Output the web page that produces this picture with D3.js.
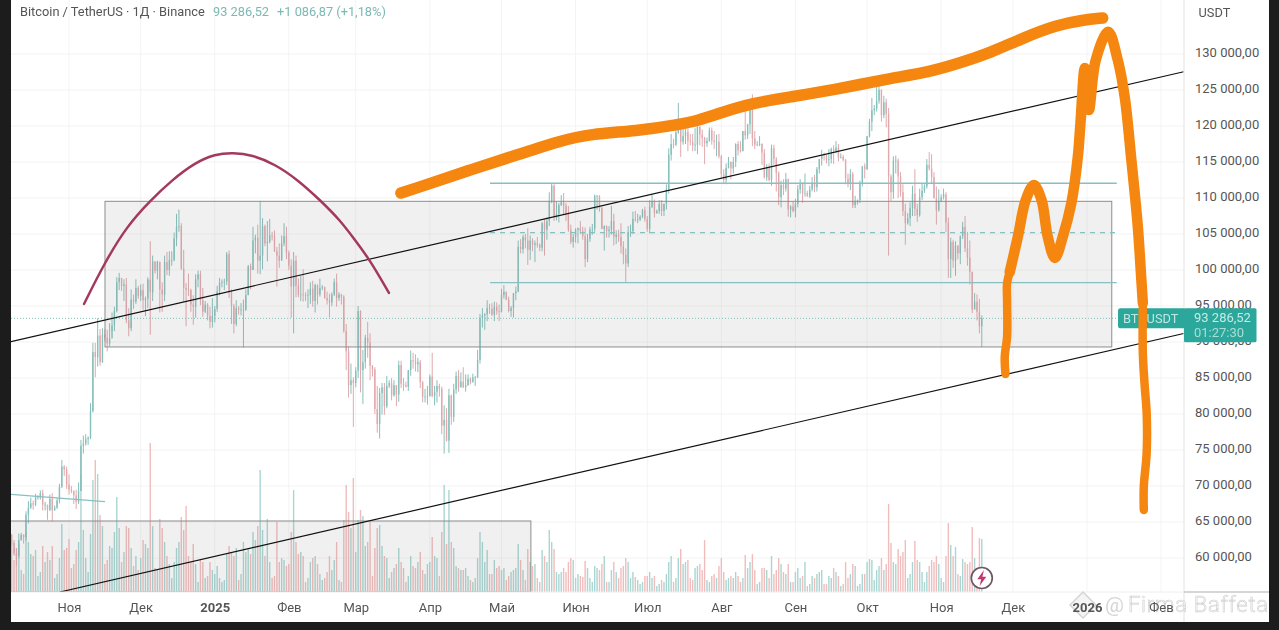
<!DOCTYPE html>
<html>
<head>
<meta charset="utf-8">
<title>BTCUSDT</title>
<script src="https://cdn.jsdelivr.net/npm/d3@7"></script>
<style>
  html, body { margin: 0; padding: 0; background: #fff; overflow: hidden; }
  svg { display: block; font-family: Roboto, sans-serif; filter: blur(0.35px); }
  .axis path, .axis line { display: none; }
  .axis text { fill: #555; font-size: 13px; font-family: Roboto, sans-serif; }
</style>
</head>
<body>
<div id="chart"></div>
<script>
// Daily candles, thousands of USDT, first candle is 8 Oct 2024 (one row per month)
var firstCandle = "2024-10-08";
var firstOpen = 62.2;

var highs = [
  63.2,62.5,61.3,63.4,63.5,63.3,66.5,67.9,68.4,68.0,68.9,68.7,69.4,69.5,67.8,67.4,68.8,69.0,67.3,68.3,70.3,73.6,72.9,72.7,
  71.6,70.0,69.4,69.5,70.5,76.4,77.0,77.2,76.9,81.5,89.9,89.9,93.3,91.8,91.9,91.8,91.7,92.6,94.1,94.9,99.0,99.6,98.9,98.7,98.9,94.7,97.3,96.6,98.7,97.8,
  98.0,98.1,96.3,99.0,104.0,102.0,101.2,101.3,101.2,98.3,102.0,102.5,102.6,102.6,105.2,107.8,108.4,106.5,102.8,98.2,99.5,97.4,96.5,99.4,99.9,99.9,97.5,95.7,95.4,94.9,96.1,
  95.0,97.8,98.9,98.7,98.8,102.5,102.7,97.3,95.3,95.8,95.0,95.4,95.9,97.3,100.7,100.9,106.0,104.9,106.3,109.6,107.2,106.3,106.8,107.1,105.3,105.5,103.2,103.7,104.8,106.5,106.0,
  102.7,101.5,102.5,102.0,98.8,99.2,100.1,96.9,97.3,98.3,98.5,98.1,98.0,98.8,97.9,97.7,97.0,96.7,96.9,98.8,99.5,96.9,96.7,96.5,92.5,89.4,87.0,85.1,
  86.5,95.0,94.4,88.9,91.0,92.8,91.2,86.8,86.5,83.9,83.6,84.3,84.3,85.3,84.7,85.0,84.7,84.0,87.4,87.4,85.0,84.5,86.0,88.8,88.5,88.3,87.8,87.5,84.6,83.5,83.9,
  85.5,88.5,83.9,84.7,84.2,83.8,81.2,80.8,83.5,82.7,84.2,85.9,86.1,85.8,86.5,85.5,85.5,85.1,85.6,85.3,88.9,93.9,94.7,94.0,95.8,95.3,95.4,95.6,95.5,95.2,
  97.4,97.9,96.9,96.3,95.0,96.8,97.7,104.1,104.3,104.9,105.0,105.8,104.8,104.4,104.1,104.6,103.7,106.7,107.1,107.3,110.8,112.0,111.9,109.5,109.3,110.4,110.7,109.3,108.9,106.3,105.0,
  105.8,105.9,106.8,106.0,105.9,105.0,106.0,106.4,110.5,110.4,110.4,108.8,106.2,106.2,106.1,108.9,107.8,105.5,105.6,106.5,104.0,103.0,106.1,106.3,108.1,108.2,107.8,107.6,108.5,108.8,
  107.5,109.7,110.5,109.8,108.4,109.7,109.7,109.2,111.9,116.9,118.9,118.2,119.5,123.2,120.0,120.4,120.9,120.9,118.9,118.9,119.7,120.2,120.0,119.5,118.5,118.4,119.8,119.8,119.3,118.8,118.9,
  116.0,114.0,114.8,115.7,115.1,115.7,117.6,117.9,117.9,119.3,122.3,120.3,123.7,124.4,119.3,117.9,118.6,117.6,116.8,114.7,114.8,117.4,117.4,115.7,113.7,112.4,112.6,113.5,112.7,109.0,109.5,
  109.9,111.8,112.6,112.2,113.4,111.0,111.7,112.9,113.2,114.3,115.4,116.7,116.3,116.0,116.8,117.0,117.3,117.9,117.5,116.2,116.0,115.4,113.4,114.0,113.6,110.3,109.8,112.4,114.4,114.8,
  118.6,121.0,123.9,122.9,125.5,126.2,125.1,124.2,123.8,122.5,113.3,115.8,115.9,115.5,113.6,111.9,109.2,107.9,109.4,111.7,114.0,109.2,111.3,112.0,111.9,115.4,116.4,116.1,113.6,111.6,111.2,
  110.5,111.3,110.8,107.3,104.5,104.2,104.0,103.4,104.8,106.7,107.5,105.3,104.1,99.8,96.8,96.6,96.0,93.7
];

var lows = [
  61.8,60.3,58.9,60.0,62.4,62.0,62.4,64.8,66.8,66.7,67.2,68.1,68.1,66.6,66.6,65.3,66.5,65.1,66.6,66.8,67.6,69.7,71.4,69.6,
  68.8,69.0,67.5,66.8,67.5,69.3,74.5,75.6,75.7,76.5,80.2,85.1,86.6,86.7,87.1,90.1,88.7,89.4,91.5,91.5,94.1,97.2,97.1,95.7,92.6,90.8,91.5,94.6,95.3,96.0,
  95.7,94.5,93.6,94.7,91.0,95.7,99.5,98.7,94.1,94.2,95.7,99.3,99.2,100.6,101.2,103.3,105.3,100.0,95.6,92.2,96.4,94.2,92.4,93.4,97.6,95.1,93.5,94.0,93.0,91.9,92.0,
  92.7,94.2,96.5,97.6,97.2,97.9,96.1,92.5,91.2,92.2,93.8,93.7,89.2,94.3,96.5,97.3,100.0,102.3,99.5,99.4,100.1,103.3,101.2,103.7,104.1,102.5,97.7,100.3,101.3,103.3,101.5,
  100.0,93.4,91.2,96.2,96.2,95.7,95.6,95.7,94.7,95.3,94.9,94.1,95.2,96.3,97.2,96.0,95.2,93.4,95.0,96.4,94.9,95.7,95.2,91.3,86.1,82.3,82.8,78.2,
  83.7,85.0,83.0,81.4,86.3,87.8,84.7,85.2,80.0,77.4,76.6,79.9,79.9,80.8,83.6,81.9,82.4,81.1,81.7,83.6,83.2,83.7,83.2,85.3,86.3,85.9,85.8,83.6,81.6,81.6,81.3,
  82.4,82.3,81.2,81.6,82.4,77.2,74.5,76.2,74.6,78.5,78.9,82.8,83.1,83.7,83.6,83.1,83.9,84.1,84.4,83.9,85.0,87.0,92.0,91.7,92.9,93.9,93.6,92.9,93.8,92.9,
  94.1,96.0,95.8,94.1,93.5,93.4,95.8,96.9,102.3,102.3,103.0,100.7,101.4,102.6,101.1,103.1,102.6,102.6,102.0,104.2,106.1,109.3,106.8,106.9,106.6,108.9,107.6,106.8,105.3,103.6,103.1,
  103.8,103.7,105.0,104.2,100.4,101.1,103.9,104.9,105.3,108.4,108.1,105.7,102.7,104.5,104.5,104.9,103.4,103.6,103.9,102.3,100.8,98.2,100.4,104.6,105.0,106.7,106.5,106.8,107.2,106.7,
  105.3,105.1,108.6,107.3,107.8,107.8,107.5,107.5,108.4,110.6,115.2,116.9,117.2,118.9,115.7,117.4,117.5,116.5,117.3,116.5,116.5,116.1,117.3,117.1,114.7,117.1,117.8,117.4,116.8,115.8,115.5,
  112.7,112.0,111.9,114.1,112.6,113.4,114.3,115.9,116.3,116.5,118.1,118.2,118.9,117.2,116.8,117.2,117.2,114.6,112.7,112.4,112.3,111.7,114.6,110.9,109.0,108.7,110.4,110.9,107.4,107.3,108.0,
  107.3,108.7,110.6,109.3,110.2,110.2,110.0,110.9,110.8,110.9,113.4,114.5,115.2,114.8,114.4,114.8,114.7,116.2,115.1,115.5,115.1,111.9,111.5,111.1,108.6,108.6,109.1,109.3,111.6,112.7,
  113.9,118.4,119.3,121.5,122.0,123.1,120.6,121.1,119.8,102.0,109.6,109.9,113.4,110.0,110.2,107.5,103.5,106.3,106.1,107.5,107.5,106.7,107.4,109.7,110.7,111.3,113.8,112.0,109.9,106.3,108.1,
  109.5,109.8,105.3,98.9,98.9,100.3,99.2,101.5,100.8,104.3,102.5,100.6,98.0,94.0,94.6,93.0,91.2,89.3
];

var closes = [
  62.1,60.6,60.3,62.5,63.2,62.9,66.0,67.0,67.6,67.4,68.4,68.4,69.0,67.4,67.4,66.7,68.2,66.6,67.0,68.0,69.9,72.7,72.3,70.2,
  69.5,69.3,68.7,67.8,69.3,75.6,75.9,76.5,76.7,80.4,88.6,87.9,90.9,87.2,91.0,90.6,89.8,90.5,92.3,94.3,98.3,98.9,97.8,98.0,93.0,91.9,95.9,95.6,97.5,96.4,
  97.2,95.8,96.0,98.7,96.9,101.2,99.9,101.1,97.3,96.6,101.1,100.0,101.4,101.4,104.4,106.0,106.1,100.2,97.5,97.3,97.2,95.2,94.9,98.7,99.4,95.8,94.2,95.2,93.6,92.8,93.6,
  94.6,97.0,98.2,98.3,98.4,102.2,96.9,95.0,92.5,94.7,94.5,94.5,94.5,96.5,100.5,100.0,104.1,104.5,101.3,102.0,106.1,103.7,103.9,104.8,104.7,102.6,102.0,101.3,103.7,104.7,102.4,
  100.6,97.7,101.3,97.8,96.6,96.6,96.5,96.4,96.5,97.4,95.7,97.9,96.6,97.5,97.6,96.1,95.8,95.5,96.6,98.3,96.1,96.6,96.3,91.5,88.7,84.0,84.7,84.3,
  86.0,94.3,86.1,87.2,90.6,89.9,86.7,86.2,80.7,78.6,82.9,83.7,81.1,83.9,84.3,82.6,84.0,82.7,86.8,84.2,84.0,83.8,86.1,87.5,87.4,86.9,87.2,84.4,82.4,82.4,82.5,
  85.2,82.5,83.1,83.9,83.5,78.4,79.2,76.3,82.6,79.6,83.4,85.3,83.7,84.5,83.7,84.0,84.9,84.4,85.1,85.1,87.5,93.4,93.7,93.9,94.7,94.6,93.8,94.9,94.3,94.2,
  96.5,97.0,95.9,94.3,94.7,96.8,97.0,103.2,102.9,104.6,104.1,102.8,104.1,103.5,103.7,103.5,103.1,106.5,105.6,106.8,109.6,111.7,107.3,107.8,109.0,109.4,108.9,107.8,105.6,103.9,104.6,
  105.6,105.8,105.4,104.7,101.5,104.3,105.6,105.7,110.3,110.3,108.6,105.7,106.1,105.4,105.6,106.8,104.6,104.9,104.6,103.3,102.1,100.9,105.3,105.4,107.1,107.0,107.0,107.4,108.3,107.1,
  105.7,108.8,109.6,107.9,108.2,109.2,108.2,109.2,111.2,116.0,117.5,117.4,119.1,120.0,117.8,118.6,119.2,117.9,117.8,117.3,117.4,119.9,118.8,118.3,117.6,117.9,119.4,118.0,117.8,117.8,115.8,
  113.3,112.5,114.2,115.0,114.1,115.0,117.5,116.6,116.5,119.3,118.7,120.2,123.3,118.3,117.4,117.4,117.5,116.3,112.9,114.3,112.5,116.9,115.4,113.5,110.1,111.8,111.3,112.6,108.4,108.8,108.2,
  109.2,111.2,112.0,110.7,110.7,110.2,111.2,112.1,111.5,114.0,115.4,116.0,115.9,115.3,115.4,116.8,116.5,117.0,115.6,115.7,115.3,112.7,112.0,113.3,109.0,109.6,109.7,112.1,114.4,114.0,
  118.6,120.6,122.2,122.4,123.5,125.0,121.5,123.3,121.7,113.0,110.8,115.2,115.2,113.0,110.8,108.2,106.5,107.2,108.6,110.6,108.5,107.6,110.1,111.0,111.6,114.6,114.1,112.9,110.0,108.3,109.6,
  110.1,110.5,106.6,101.5,103.9,101.3,103.4,102.3,104.7,106.0,103.0,101.7,99.7,94.5,95.6,94.2,92.2,93.3
];

// Volume has no axis of its own in the screenshot, so these are bar heights in chart units
var volumes = [
  58,32,44,48,22,18,60,50,38,36,42,16,20,46,30,40,32,46,14,18,34,68,42,44,
  53,24,28,42,50,118,62,34,20,58,112,132,118,77,66,28,32,46,44,60,95,64,30,40,66,64,44,26,36,22,
  34,52,48,44,149,66,24,22,73,64,50,36,28,14,30,44,50,75,62,86,36,30,48,28,10,32,30,14,16,30,22,
  18,26,14,10,12,38,46,40,36,44,12,18,50,40,44,38,60,52,66,122,62,36,73,30,14,16,70,30,34,32,26,
  28,60,102,50,38,40,36,10,14,30,34,36,28,18,12,14,20,36,22,32,50,12,10,72,107,80,64,114,
  40,72,82,76,46,50,70,16,44,64,67,46,36,34,14,20,24,28,44,30,24,10,16,36,26,24,30,40,22,18,28,
  30,55,36,34,16,60,107,48,102,50,44,26,24,22,22,24,16,12,10,14,34,60,50,30,42,18,18,32,24,26,
  22,24,12,16,20,22,24,48,32,22,12,43,30,26,28,14,10,42,36,30,62,50,43,20,18,20,24,20,30,34,32,
  14,18,16,15,31,24,14,10,26,24,22,28,36,10,10,22,30,20,14,24,26,34,30,14,20,15,12,8,10,16,
  16,20,14,16,6,8,12,10,18,30,36,10,14,34,43,28,30,32,14,12,24,26,28,22,52,12,10,16,18,14,26,
  34,20,12,14,16,14,20,16,10,14,37,24,30,38,22,8,10,24,24,22,14,36,18,22,34,28,20,18,28,10,10,
  20,24,14,16,30,6,8,16,14,18,20,22,8,8,16,14,24,20,16,6,8,30,14,18,28,26,6,8,18,18,
  30,33,32,12,22,26,34,22,28,88,49,30,28,43,36,40,52,14,18,30,51,32,30,20,10,20,26,32,30,36,28,
  14,10,36,69,47,36,45,18,16,33,30,28,30,65,34,24,54,53
];

// Axis labels
var monthTicks = ["2024-11-01","2024-12-01","2025-01-01","2025-02-01","2025-03-01","2025-04-01","2025-05-01","2025-06-01","2025-07-01","2025-08-01","2025-09-01","2025-10-01","2025-11-01","2025-12-01","2026-01-01","2026-02-01"];
var monthLabels = ["Ноя","Дек","2025","Фев","Мар","Апр","Май","Июн","Июл","Авг","Сен","Окт","Ноя","Дек","2026","Фев"];
var priceTicks = [130,125,120,115,110,105,100,95,90,85,80,75,70,65,60];

// Drawings on the chart: [days after 1 Nov 2024, price in thousands]
var upperTrend = [[-24.3,90.04],[466.5,127.54]];
var lowerTrend = [[-3.8,55.28],[466.5,91.18]];
var oldLevel = [[-24.3,68.85],[15.06,67.82]];
var mainBox = [[15.06,109.54],[436.4,89.31]];
var volumeBox = [[-26,65.14],[193.3,55.28]];
var levelStart = 176.2, levelEnd = 438.5;
var levels = [112.04,105.18,98.24];
var lastPrice = 93.28652;

var domeCurve = [[6.28,95.28],[6.28,95.28],[15.06,101.11],[24.27,106.1],[33.89,109.6],[43.1,112.5],[52.72,114.9],[61.09,116.1],[68.62,116.3],[76.57,116.0],[86.19,114.7],[95.82,112.5],[105.02,109.72],[113.39,106.94],[119.67,104.17],[125.94,101.39],[133.89,96.81],[133.89,96.81]];
var topStroke = [[138.9,110.69],[146.9,111.53],[167.8,113.89],[188.7,116.11],[205.4,117.92],[218,118.89],[237.7,119.31],[254.4,120.14],[264,120.83],[272.4,121.81],[286.2,123.19],[301.7,124.03],[319.7,125],[342.3,126.53],[360.3,127.5],[372.8,128.75],[385.4,130.14],[399.2,132.22],[413.4,134.03],[424.3,134.72],[432.6,135]];
var forecastStart = [[391.9,85.56],[391.6,87.96],[392.6,90.74],[392.6,95.42],[392.6,98.19],[393.7,99.72]];
var forecastMiddle = [[393.7,99.72],[397.1,104.63],[400.4,109.72],[403.8,111.81],[407,109.72],[409.6,104.63],[412.6,101.67],[415.9,104.63],[419.5,109.31],[422.2,115.74],[423.3,120.42],[425.1,128.06],[426.8,122.22],[429.7,129.17],[434.9,133.1],[438.9,129.17],[441.8,124.07],[444.6,115.28],[447.3,106.01],[448.6,99.58],[449.4,95.42]];
var forecastEnd = [[449.4,95.42],[449.4,88.47],[450.2,83.79],[451,80.14],[451,74.58],[449.8,69.9],[449.8,66.67]];

var svgWidth = 1279;
var svgHeight = 630;
var plotLeft = 11, plotRight = 1184, plotBottom = 592, frameRight = 1269, frameBottom = 622;

var svg = d3.select("#chart").append("svg")
  .attr("width", svgWidth)
  .attr("height", svgHeight);

svg.append("defs").append("clipPath").attr("id", "plot")
  .append("rect").attr("x", plotLeft).attr("y", 0).attr("width", plotRight - plotLeft).attr("height", plotBottom);

var parseDay = d3.utcParse("%Y-%m-%d");
var dayMs = 864e5;
var baseDay = parseDay("2024-11-01");

var xScale = d3.scaleUtc()
  .domain([baseDay, parseDay("2026-02-01")])
  .range([69, 1161]);

var yScale = d3.scaleLinear()
  .domain([130, 60])
  .range([54, 558]);

// Volume bars sit on the chart floor
var volScale = d3.scaleLinear()
  .domain([0, 150])
  .range([plotBottom, plotBottom - 150]);

function dayX(d) { return xScale(new Date(+baseDay + d * dayMs)); }
var drawLine = d3.line().x(d => dayX(d[0])).y(d => yScale(d[1]));

var candles = highs.map(function (h, i) {
  var open = i === 0 ? firstOpen : closes[i - 1];
  return {
    date: d3.utcDay.offset(parseDay(firstCandle), i),
    open: open, high: h, low: lows[i], close: closes[i],
    up: closes[i] >= open, volume: volumes[i]
  };
});

// Grid
var monthDates = monthTicks.map(parseDay);
var grid = svg.append("g");
grid.selectAll(".gy").data(priceTicks).enter().append("line")
  .attr("x1", plotLeft).attr("x2", plotRight)
  .attr("y1", d => yScale(d)).attr("y2", d => yScale(d))
  .attr("stroke", "#f3f3f3");
grid.selectAll(".gx").data(monthDates).enter().append("line")
  .attr("x1", d => xScale(d)).attr("x2", d => xScale(d))
  .attr("y1", 0).attr("y2", plotBottom)
  .attr("stroke", "#f3f4f5");

var plot = svg.append("g").attr("clip-path", "url(#plot)");

// Volume
plot.append("g").selectAll("rect").data(candles).enter().append("rect")
  .attr("x", d => xScale(d.date) - 0.7)
  .attr("width", 1.4)
  .attr("y", d => volScale(d.volume))
  .attr("height", d => plotBottom - volScale(d.volume))
  .attr("fill", d => d.up ? "#a9d6d2" : "#f1bcbc");

// Candles
var candleGroup = plot.append("g");
candleGroup.selectAll("line").data(candles).enter().append("line")
  .attr("x1", d => xScale(d.date)).attr("x2", d => xScale(d.date))
  .attr("y1", d => yScale(d.high)).attr("y2", d => yScale(d.low))
  .attr("stroke", d => d.up ? "#86c0bb" : "#e2a9ad")
  .attr("stroke-width", 1);
candleGroup.selectAll("rect").data(candles).enter().append("rect")
  .attr("x", d => xScale(d.date) - 0.7)
  .attr("width", 1.4)
  .attr("y", d => yScale(Math.max(d.open, d.close)))
  .attr("height", d => Math.max(0.6, Math.abs(yScale(d.open) - yScale(d.close))))
  .attr("fill", d => d.up ? "#86c0bb" : "#e2a9ad");

// Boxes
plot.selectAll(".box").data([mainBox, volumeBox]).enter().append("rect")
  .attr("x", d => dayX(d[0][0]))
  .attr("y", d => yScale(d[0][1]))
  .attr("width", d => dayX(d[1][0]) - dayX(d[0][0]))
  .attr("height", d => yScale(d[1][1]) - yScale(d[0][1]))
  .attr("fill", "#808080")
  .attr("fill-opacity", 0.12)
  .attr("stroke", "#8d8d8d")
  .attr("stroke-width", 1);

// Teal levels
plot.selectAll(".level").data(levels).enter().append("line")
  .attr("x1", dayX(levelStart)).attr("x2", dayX(levelEnd))
  .attr("y1", d => yScale(d)).attr("y2", d => yScale(d))
  .attr("stroke", "#88c0c2")
  .attr("stroke-width", (d, i) => i === 0 ? 1.6 : 1.3)
  .attr("stroke-dasharray", (d, i) => i === 1 ? "5 5" : null);
plot.append("path").attr("d", drawLine(oldLevel))
  .attr("fill", "none").attr("stroke", "#88c0c2").attr("stroke-width", 1.3);

// Last price line
plot.append("line")
  .attr("x1", plotLeft).attr("x2", plotRight)
  .attr("y1", yScale(lastPrice)).attr("y2", yScale(lastPrice))
  .attr("stroke", "#7fbdb7")
  .attr("stroke-dasharray", "1 2");

// Trend lines
plot.selectAll(".trend").data([upperTrend, lowerTrend]).enter().append("path")
  .attr("d", drawLine)
  .attr("fill", "none")
  .attr("stroke", "#111")
  .attr("stroke-width", 1.2);

// Lightning mark after the last candle
var lastX = xScale(candles[candles.length - 1].date);
var bolt = svg.append("g").attr("transform", `translate(${lastX}, 578)`);
bolt.append("circle").attr("r", 10.5).attr("fill", "#fff").attr("stroke", "#6a5a66").attr("stroke-width", 1.7);
bolt.append("path").attr("d", "M2.2,-8 L-4.5,1.2 L-0.6,1.2 L-2.2,8 L4.5,-1.2 L0.6,-1.2 Z").attr("fill", "#c2386b");

// Scale panel
svg.append("rect").attr("x", plotRight).attr("y", 0).attr("width", frameRight - plotRight).attr("height", frameBottom).attr("fill", "#fff");
svg.append("line").attr("x1", plotRight).attr("x2", plotRight).attr("y1", 0).attr("y2", frameBottom).attr("stroke", "#e3e3e3");
svg.append("line").attr("x1", plotLeft).attr("x2", plotRight).attr("y1", plotBottom).attr("y2", plotBottom).attr("stroke", "#eeeeee");
svg.append("line").attr("x1", plotRight).attr("x2", frameRight).attr("y1", plotBottom).attr("y2", plotBottom).attr("stroke", "#c9c9c9").attr("stroke-width", 1.5);

var ruFormat = d3.formatLocale({decimal: ",", thousands: " ", grouping: [3], currency: ["", ""]}).format(",.2f");

var rightAxis = d3.axisRight(yScale)
  .tickValues(priceTicks)
  .tickSize(0)
  .tickPadding(11)
  .tickFormat(d => ruFormat(d * 1000));
svg.append("g").attr("class", "axis")
  .attr("transform", `translate(${plotRight}, -1.5)`)
  .call(rightAxis);

// Watermark sits under the time labels
var mark = svg.append("g");
mark.append("path").attr("d", "M1083,592 L1096,605 L1083,618 L1070,605 Z")
  .attr("fill", "#f4f4f4").attr("stroke", "#d5d5d5").attr("stroke-width", 1.5);
mark.append("text").attr("x", 1105).attr("y", 612).text("@")
  .attr("font-size", 21).attr("fill", "#d6d6d6");
mark.append("text").attr("x", 1128).attr("y", 612).text("Firma Baffeta")
  .attr("font-size", 22).attr("font-weight", 300)
  .attr("textLength", 140).attr("lengthAdjust", "spacing")
  .attr("fill", "#fff").attr("stroke", "#cdcdcd").attr("stroke-width", 0.6);

var bottomAxis = d3.axisBottom(xScale)
  .tickValues(monthDates)
  .tickSize(0)
  .tickPadding(11)
  .tickFormat((d, i) => monthLabels[i]);
var timeAxis = svg.append("g").attr("class", "axis")
  .attr("transform", `translate(0, ${plotBottom})`)
  .call(bottomAxis);
timeAxis.selectAll("text")
  .style("font-weight", (d, i) => monthLabels[i].length === 4 ? 700 : 400);

// Header
var header = svg.append("text").attr("x", 20).attr("y", 16).attr("font-size", 12.8);
header.append("tspan").attr("fill", "#555").text("Bitcoin / TetherUS · 1Д · Binance");
header.append("tspan").attr("x", 213).attr("fill", "#7cb9b3").text("93 286,52");
header.append("tspan").attr("x", 277).attr("fill", "#7cb9b3").text("+1 086,87 (+1,18%)");
svg.append("text").attr("x", 1198.5).attr("y", 17).attr("font-size", 12.8).attr("fill", "#555").text("USDT");

// Price tags
var tagTop = yScale(lastPrice) - 10;
svg.append("rect").attr("x", 1118).attr("y", tagTop).attr("width", 68).attr("height", 20).attr("rx", 2.5).attr("fill", "#2ba79b");
svg.append("text").attr("x", 1123).attr("y", tagTop + 15).attr("font-size", 12.8).attr("fill", "#bfe8e2").text("BTCUSDT");
svg.append("rect").attr("x", plotRight).attr("y", tagTop).attr("width", 72.5).attr("height", 34).attr("rx", 1.5).attr("fill", "#2ba79b");
svg.append("text").attr("x", 1194).attr("y", tagTop + 14).attr("font-size", 13).attr("fill", "#c6ebe6").text("93 286,52");
svg.append("text").attr("x", 1194).attr("y", tagTop + 29).attr("font-size", 13).attr("fill", "#a9dfd8").text("01:27:30");

// Hand drawn strokes
var soft = d3.line().x(d => dayX(d[0])).y(d => yScale(d[1])).curve(d3.curveBasis);
var smooth = d3.line().x(d => dayX(d[0])).y(d => yScale(d[1])).curve(d3.curveCatmullRom.alpha(0.5));
function strokePath(d, color, w) {
  svg.append("path").attr("d", d)
    .attr("fill", "none").attr("stroke", color).attr("stroke-width", w)
    .attr("stroke-linecap", "round").attr("stroke-linejoin", "round");
}
strokePath(soft(domeCurve), "#a33a5e", 2.5);
strokePath(soft(topStroke), "#f5860f", 11.5);
strokePath(smooth(forecastStart), "#f5860f", 8.5);
strokePath(smooth(forecastMiddle), "#f5860f", 10.5);
strokePath(smooth(forecastEnd), "#f5860f", 8.5);

// Dark screenshot border
svg.append("rect").attr("x", 0).attr("y", 0).attr("width", plotLeft).attr("height", svgHeight).attr("fill", "#1c1c1c");
svg.append("rect").attr("x", frameRight).attr("y", 0).attr("width", svgWidth - frameRight).attr("height", svgHeight).attr("fill", "#1c1c1c");
svg.append("rect").attr("x", 0).attr("y", frameBottom).attr("width", svgWidth).attr("height", svgHeight - frameBottom).attr("fill", "#1c1c1c");
</script>
</body>
</html>
